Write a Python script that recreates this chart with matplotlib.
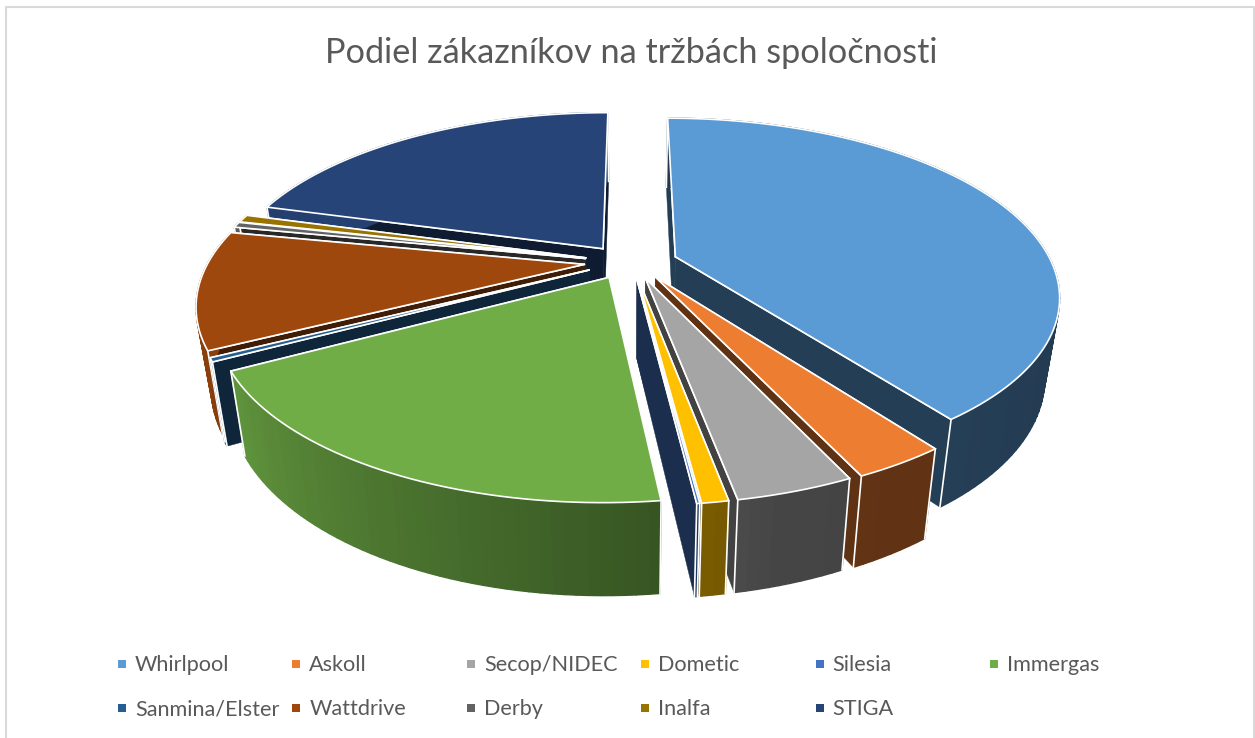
# exploded 3d pie of customer shares, drawn by hand because matplotlib has no 3d pie
import matplotlib
matplotlib.use('Agg')
import matplotlib.pyplot as plt
import numpy as np

plt.rcParams['font.family'] = ['Lato', 'DejaVu Sans']

# data
names = ['Whirlpool', 'Askoll', 'Secop/NIDEC', 'Dometic', 'Silesia', 'Immergas',
         'Sanmina/Elster', 'Wattdrive', 'Derby', 'Inalfa', 'STIGA']
shares = [39.9, 3.2, 4.0, 0.9, 0.1, 19.0, 0.35, 10.65, 0.5, 0.7, 20.7]
colors = ['#5B9BD5', '#ED7D31', '#A5A5A5', '#FFC000', '#4472C4', '#70AD47',
          '#255E91', '#9E480E', '#636363', '#997300', '#264478']
title = 'Podiel zákazníkov na tržbách spoločnosti'

# view of the disk, in pixels
cx, cy = 631, 262
a, b = 376, 170
persp = 0.212
depth = 78
shrink = 0.965
explode_x = 0.125
explode_y = 0.1

# back to front
draw_order = [10, 9, 8, 7, 6, 0, 1, 2, 3, 4, 5]


def project(u, v, low=False):
    u = np.asarray(u, dtype=float)
    v = np.asarray(v, dtype=float)
    s = 1 / (1 + persp * v)
    x = cx + a * u * s
    y = cy - b * v * s
    if low:
        x = cx + (x - cx) * shrink
        y = cy + (y - cy) * shrink + depth * s
    return x, y


def dark(col, f):
    return tuple(np.array(matplotlib.colors.to_rgb(col)) * f)


def wall_shade(t):
    # light comes from the left
    deg = np.degrees(t)
    return np.interp(deg, [90, 165, 175, 240, 300], [0.37, 0.42, 0.5, 0.85, 0.95])


def cut_wall(ax, u0, v0, u1, v1, col, z):
    xt, yt = project([u0, u1], [v0, v1])
    xb, yb = project([u1, u0], [v1, v0], low=True)
    ax.fill(np.r_[xt, xb], np.r_[yt, yb], color=col, lw=0.3, zorder=z)
    ax.plot(xt, yt, color='white', lw=1.2, zorder=z + 0.1)


fig = plt.figure(figsize=(12.55, 7.38), dpi=100)
ax = fig.add_axes([0, 0, 1, 1])
ax.set_xlim(0, 1255)
ax.set_ylim(738, 0)
ax.axis('off')

# chart border, open at the bottom
ax.plot([6, 6, 1254, 1254], [738, 7, 7, 738], color='#D9D9D9', lw=1.5)

edges = np.r_[0, np.cumsum(shares)] / np.sum(shares) * 2 * np.pi

for order, i in enumerate(draw_order):
    t0, t1 = edges[i], edges[i + 1]
    mid = (t0 + t1) / 2
    ou, ov = explode_x * np.sin(mid), explode_y * np.cos(mid)
    n = max(int((t1 - t0) * 40), 2)
    t = np.linspace(t0, t1, n + 1)
    u = ou + np.sin(t)
    v = ov + np.cos(t)
    z = 10 + order * 2

    # straight cut walls
    f = 0.4
    cut_wall(ax, ou, ov, u[0], v[0], dark(colors[i], f), z)
    cut_wall(ax, ou, ov, u[-1], v[-1], dark(colors[i], f), z)

    # rounded outer wall, a quad per step for the shading
    xt, yt = project(u, v)
    xb, yb = project(u, v, low=True)
    for k in range(n):
        col = dark(colors[i], wall_shade((t[k] + t[k + 1]) / 2))
        ax.fill([xt[k], xt[k + 1], xb[k + 1], xb[k]],
                [yt[k], yt[k + 1], yb[k + 1], yb[k]],
                facecolor=col, edgecolor=col, lw=1.0, zorder=z + 0.2)
    for k in [0, n]:
        ax.plot([xt[k], xb[k]], [yt[k], yb[k]], color='white', lw=1.2, zorder=z + 0.3)

    # top face
    ox, oy = project(ou, ov)
    ax.fill(np.r_[ox, xt], np.r_[oy, yt], facecolor=colors[i], edgecolor='white',
            lw=1.2, joinstyle='round', zorder=z + 0.5)

# title
ax.text(631, 53, title, fontsize=24.7, color='#595959', ha='center', va='center')

# legend
ncol = 6
for i, name in enumerate(names):
    lx = 122 + 174.4 * (i % ncol)
    ly = 665 + 44 * (i // ncol)
    ax.scatter([lx], [ly - 1], marker='s', s=30, color=colors[i], linewidths=0)
    ax.text(lx + 13, ly, name, fontsize=15.6, color='#595959', ha='left', va='center')

plt.savefig('out.png', dpi=100)
